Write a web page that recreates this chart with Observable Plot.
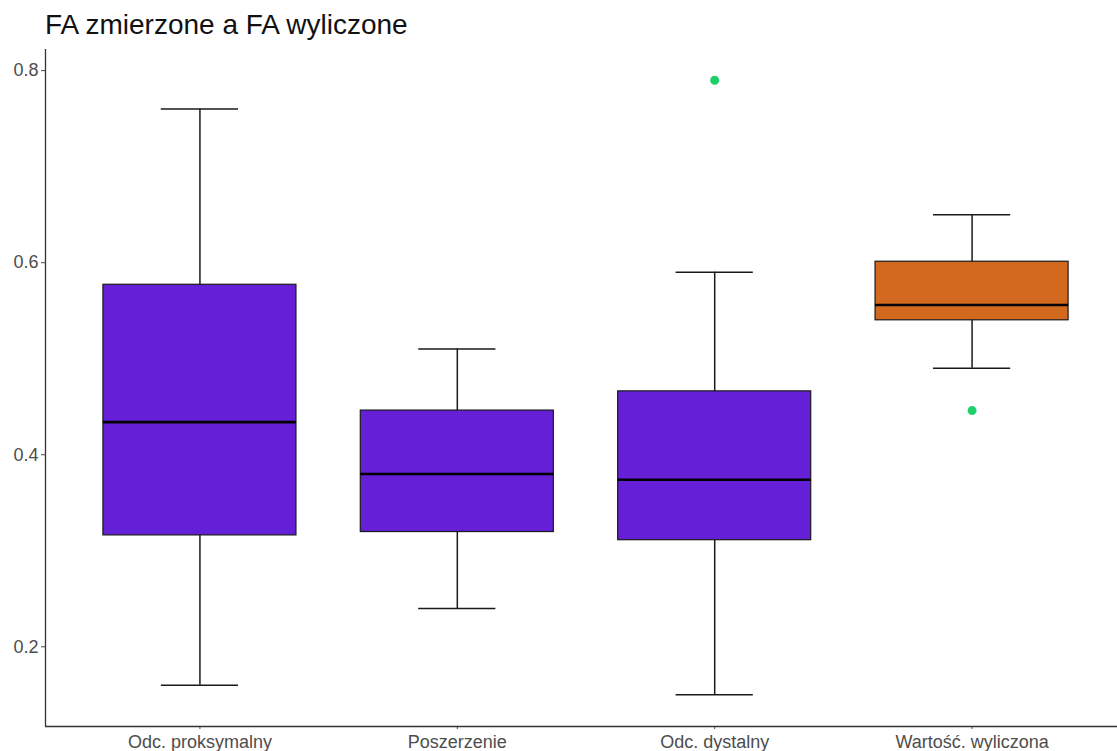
<!DOCTYPE html>
<html>
<head>
<meta charset="utf-8">
<script src="https://cdn.jsdelivr.net/npm/d3@7"></script>
<script src="https://cdn.jsdelivr.net/npm/@observablehq/plot@0.6"></script>
<style>
  html, body { margin: 0; padding: 0; background: #fff; }
  #title { font-family: "Liberation Sans", Arial, sans-serif; font-size: 28px; line-height: 28px; color: #111;
           height: 48px; padding: 11px 0 0 45px; box-sizing: border-box; white-space: nowrap; }
  #chart svg { display: block; }
</style>
</head>
<body>
<div id="title">FA zmierzone a FA wyliczone</div>
<div id="chart"></div>
<script>
// Box summaries per measurement group
const categories = ["Odc. proksymalny", "Poszerzenie", "Odc. dystalny", "Wartość. wyliczona"];
const whiskerLow  = [0.16, 0.24, 0.15, 0.49];
const q1          = [0.316, 0.3195, 0.311, 0.540];
const median      = [0.434, 0.380, 0.374, 0.556];
const q3          = [0.577, 0.446, 0.466, 0.601];
const whiskerHigh = [0.76, 0.51, 0.59, 0.65];
const fills       = ["#651fd6", "#651fd6", "#651fd6", "#d2691e"];
// Outlying observations
const outlierGroup = ["Odc. dystalny", "Wartość. wyliczona"];
const outlierValue = [0.79, 0.446];
const yTicks = [0.2, 0.4, 0.6, 0.8];

const boxes = categories.map((c, i) => ({
  cat: c, pos: i + 1,
  lo: whiskerLow[i], q1: q1[i], med: median[i], q3: q3[i], hi: whiskerHigh[i], fill: fills[i]
}));
const outliers = outlierGroup.map((g, i) => ({pos: categories.indexOf(g) + 1, v: outlierValue[i]}));

const boxHalf = 0.375, capHalf = 0.15;

const plot = Plot.plot({
  width: 1117,
  height: 703,
  marginTop: 1,
  marginLeft: 45,
  marginRight: 0,
  marginBottom: 25,
  style: {fontFamily: "Liberation Sans, Arial, sans-serif", fontSize: "18px", color: "#4d4d4d", background: "#fff"},
  x: {domain: [0.4, 4.565], ticks: [1, 2, 3, 4], tickFormat: d => categories[d - 1], tickSize: 3, tickPadding: 6, label: null},
  y: {domain: [0.117, 0.822], ticks: yTicks, tickFormat: d3.format(".1f"), tickSize: 4, tickPadding: 3, label: null},
  marks: [
    // whisker stems
    Plot.ruleX(boxes, {x: "pos", y1: "lo", y2: "hi", stroke: "#1a1a1a", strokeWidth: 1.5}),
    // whisker caps
    Plot.ruleY(boxes, {y: "lo", x1: d => d.pos - capHalf, x2: d => d.pos + capHalf, stroke: "#1a1a1a", strokeWidth: 1.5}),
    Plot.ruleY(boxes, {y: "hi", x1: d => d.pos - capHalf, x2: d => d.pos + capHalf, stroke: "#1a1a1a", strokeWidth: 1.5}),
    // interquartile boxes
    Plot.rect(boxes, {x1: d => d.pos - boxHalf, x2: d => d.pos + boxHalf, y1: "q1", y2: "q3", fill: "fill", stroke: "#1a1a1a", strokeWidth: 1.2}),
    // medians
    Plot.ruleY(boxes, {y: "med", x1: d => d.pos - boxHalf, x2: d => d.pos + boxHalf, stroke: "#000", strokeWidth: 2.6}),
    // outliers
    Plot.dot(outliers, {x: "pos", y: "v", r: 4.5, fill: "#1fcf6a", stroke: null}),
    // axis lines
    Plot.ruleX([0.4], {stroke: "#333", strokeWidth: 1.3}),
    Plot.ruleY([0.117], {stroke: "#333", strokeWidth: 1.3})
  ]
});
document.getElementById("chart").appendChild(plot);
</script>
</body>
</html>
